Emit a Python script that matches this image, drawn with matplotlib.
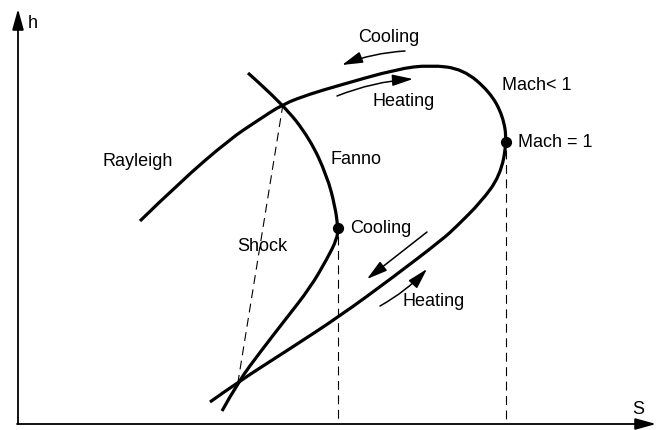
import matplotlib
matplotlib.use("Agg")
import matplotlib.pyplot as plt
from matplotlib.path import Path
from matplotlib.patches import PathPatch

rayleigh_s = [140, 180, 230, 257, 283, 310, 337, 397, 430, 463, 490, 503, 507, 500, 481, 457, 443,
              392, 340, 288, 238, 210]
rayleigh_h = [222, 183, 140, 122, 105, 95, 87, 70, 66, 70, 93, 117, 143, 177, 203, 227, 240,
              279, 317, 351, 383, 403]
fanno_s = [248, 283, 310, 327, 335, 338, 337, 327, 310, 285, 261, 238, 222]
fanno_h = [74, 105, 140, 177, 207, 229, 240, 260, 289, 321, 352, 383, 412]

# states marked on the chart
shock_s = [283, 238]
shock_h = [105, 383]
sonic_s = [338, 506]
sonic_h = [229, 143]

labels = ["Rayleigh", "Fanno", "Shock", "Mach< 1", "Mach = 1", "Cooling", "Heating", "Cooling", "Heating"]
label_s = [103, 330, 237, 502, 518, 358, 373, 350, 403]
label_h = [162, 160, 247, 86, 143, 37, 102, 229, 302]

# direction arrows: (start s, start h, end s, end h, curvature)
arrows = [
    (405, 52, 342, 66, 0.08),
    (337, 97, 413, 80, -0.08),
    (427, 233, 367, 280, 0.0),
    (380, 307, 427, 270, 0.08),
]


def smooth_path(xs, ys):
    # quadratic bezier through midpoints, read points act as control points
    pts = list(zip(xs, ys))
    verts = [pts[0]]
    codes = [Path.MOVETO]
    for i in range(1, len(pts) - 2):
        mid = ((pts[i][0] + pts[i + 1][0]) / 2, (pts[i][1] + pts[i + 1][1]) / 2)
        verts += [pts[i], mid]
        codes += [Path.CURVE3, Path.CURVE3]
    verts += [pts[-2], pts[-1]]
    codes += [Path.CURVE3, Path.CURVE3]
    return Path(verts, codes)


plt.rcParams["font.family"] = ["Liberation Sans", "DejaVu Sans"]
font_size = 13

fig = plt.figure(figsize=(6.57, 4.31), dpi=100)
ax = fig.add_axes([0, 0, 1, 1])
ax.set_xlim(0, 657)
ax.set_ylim(431, 0)
ax.axis("off")

# coordinate axes
ax.annotate("", xy=(18, 10), xytext=(18, 425),
            arrowprops=dict(arrowstyle="-|>,head_length=0.9,head_width=0.25", color="k", lw=1.3,
                            mutation_scale=14, shrinkA=0, shrinkB=0))
ax.annotate("", xy=(656, 425), xytext=(17, 425),
            arrowprops=dict(arrowstyle="-|>,head_length=0.9,head_width=0.25", color="k", lw=1.3,
                            mutation_scale=14, shrinkA=0, shrinkB=0))
ax.text(28, 24, "h", fontsize=font_size, va="center", ha="left")
ax.text(632, 410, "S", fontsize=font_size, va="center", ha="left")

for xs, ys in [(rayleigh_s, rayleigh_h), (fanno_s, fanno_h)]:
    ax.add_patch(PathPatch(smooth_path(xs, ys), fill=False, edgecolor="k", lw=2.3,
                           capstyle="butt", joinstyle="round"))

ax.plot(shock_s, shock_h, color="k", lw=0.8, dashes=(8, 5))
for s, h in zip(sonic_s, sonic_h):
    ax.plot([s, s], [h + 8, 425], color="k", lw=0.8, dashes=(8, 5))
ax.scatter(sonic_s, sonic_h, s=50, color="k", zorder=5)

for txt, s, h in zip(labels, label_s, label_h):
    ax.text(s, h, txt, fontsize=font_size, va="center", ha="left")

for s0, h0, s1, h1, rad in arrows:
    ax.annotate("", xy=(s1, h1), xytext=(s0, h0),
                arrowprops=dict(arrowstyle="-|>,head_length=0.9,head_width=0.25", color="k", lw=1.1,
                                mutation_scale=14, shrinkA=0, shrinkB=0,
                                connectionstyle=f"arc3,rad={rad}"))

fig.savefig("out.png", dpi=100)
